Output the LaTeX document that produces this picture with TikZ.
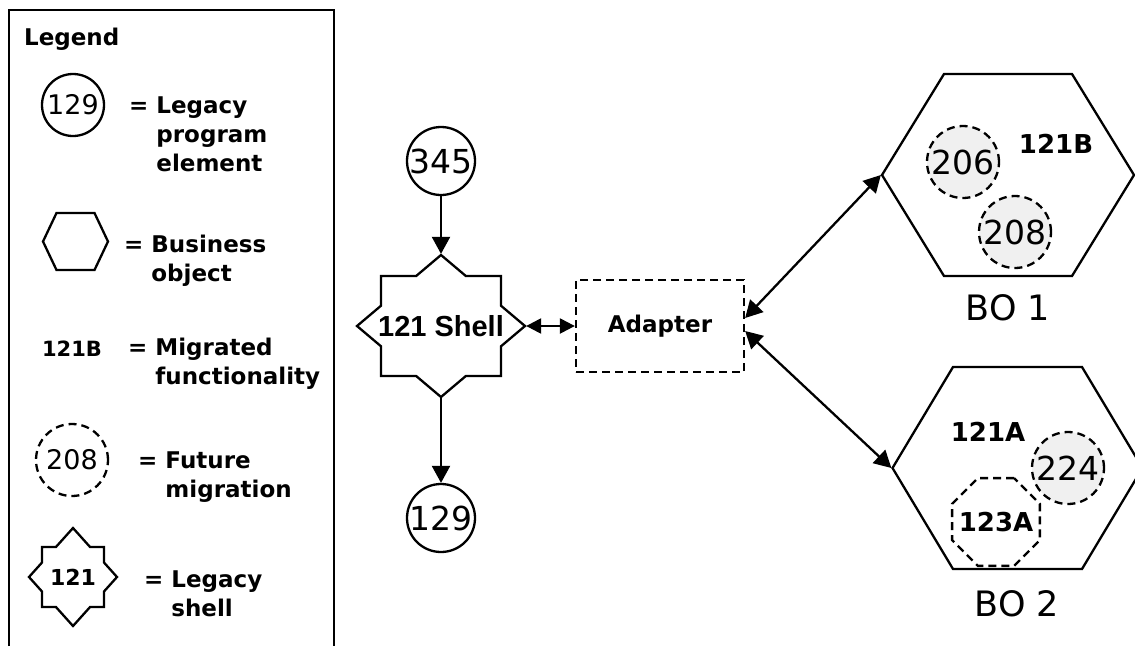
\documentclass[tikz,border=0pt]{standalone}
\usepackage{fontspec}
\setmainfont{DejaVu Sans}
\newfontfamily\shellfont{Liberation Sans}
\usetikzlibrary{arrows.meta,shapes.geometric}

\newcommand{\shellstar}[5]{%
  \draw[shift={(#1.center)}] (-#2,-#3) -- ({-#4*(1-#3/#5)},-#3) -- (0,-#5)
    -- ({#4*(1-#3/#5)},-#3) -- (#2,-#3) -- (#2,{-#5*(1-#2/#4)}) -- (#4,0)
    -- (#2,{#5*(1-#2/#4)}) -- (#2,#3) -- ({#4*(1-#3/#5)},#3) -- (0,#5)
    -- ({-#4*(1-#3/#5)},#3) -- (-#2,#3) -- (-#2,{#5*(1-#2/#4)}) -- (-#4,0)
    -- (-#2,{-#5*(1-#2/#4)}) -- cycle;}
\newcommand{\bohex}[4]{%
  \draw[shift={(#1.center)}] (-#2,0) -- (-#4,-#3) -- (#4,-#3) -- (#2,0)
    -- (#4,#3) -- (-#4,#3) -- cycle;}

\begin{document}
\begin{tikzpicture}[x=1pt,y=-1pt,line width=2.3pt,
    >={Triangle[length=17pt,width=18pt]},
    dashline/.style={dash pattern=on 8pt off 5pt},
    legendtext/.style={anchor=base west,inner sep=0pt,
      font=\fontsize{23}{29}\selectfont\bfseries},
    oldelem/.style={circle,draw,minimum size=68pt,inner sep=0pt,
      font=\fontsize{33}{33}\selectfont},
    futureelem/.style={oldelem,dashline,fill=gray!12,minimum size=72pt},
    migrated/.style={inner sep=0pt,font=\fontsize{26}{26}\selectfont\bfseries},
    holder/.style={inner sep=0pt},
    bolabel/.style={inner sep=0pt,font=\fontsize{35}{35}\selectfont}]
  \useasboundingbox (0,0) rectangle (1135,646);
  \clip (0,0) rectangle (1135,646);

  \draw[line width=2pt] (9,646) -- (9,10) -- (334,10) -- (334,646);
  \node[legendtext] (legendtitle) at (23,45) {Legend};

  \node[oldelem,minimum size=62pt,font=\fontsize{27}{27}\selectfont] (leg129) at (73,105) {129};
  \node[legendtext] (legold) at (128,113) {= \begin{tabular}[t]{@{}l@{}}Legacy\\program\\element\end{tabular}};

  \node[holder,minimum width=65pt,minimum height=57pt] (leghex) at (75.5,241.5) {};
  \bohex{leghex}{32.5}{28.5}{19}
  \node[legendtext] (legbo) at (123,252) {= \begin{tabular}[t]{@{}l@{}}Business\\object\end{tabular}};

  \node[migrated,font=\fontsize{21}{21}\selectfont\bfseries] (leg121b) at (72,349) {121B};
  \node[legendtext] (legmig) at (127,355) {= \begin{tabular}[t]{@{}l@{}}Migrated\\functionality\end{tabular}};

  \node[oldelem,dashline,minimum size=72pt,font=\fontsize{27}{27}\selectfont] (leg208) at (72,460) {208};
  \node[legendtext] (legfut) at (137,468) {= \begin{tabular}[t]{@{}l@{}}Future\\migration\end{tabular}};

  \node[holder,minimum width=88pt,minimum height=98pt,font=\fontsize{22}{22}\selectfont\bfseries] (legshell) at (73,577) {121};
  \shellstar{legshell}{31}{30}{44}{49}
  \node[legendtext] (legsh) at (143,587) {= \begin{tabular}[t]{@{}l@{}}Legacy\\shell\end{tabular}};

  \node[oldelem] (n345) at (441,161) {345};
  \node[holder,minimum width=168pt,minimum height=142pt,font=\fontsize{29}{29}\selectfont\shellfont\bfseries] (shell) at (441,326) {121 Shell};
  \shellstar{shell}{60}{50}{84}{71}
  \node[oldelem] (n129) at (441,518) {129};
  \node[draw,dashline,minimum width=168pt,minimum height=92pt,inner sep=0pt,
    font=\fontsize{23}{23}\selectfont\bfseries] (adapter) at (660,326) {Adapter};

  \node[holder,minimum width=252pt,minimum height=202pt] (bo1) at (1008,175) {};
  \bohex{bo1}{126}{101}{64}
  \node[futureelem] (f206) at (963,162) {206};
  \node[futureelem] (f208) at (1015,232) {208};
  \node[migrated] (m121b) at (1056,144) {121B};
  \node[bolabel] (bo1name) at (1008,308) {BO 1};

  \node[holder,minimum width=250pt,minimum height=202pt] (bo2) at (1017.5,468) {};
  \bohex{bo2}{125}{101}{64.5}
  \node[migrated] (m121a) at (988,432) {121A};
  \node[regular polygon,regular polygon sides=8,draw,dashline,minimum size=95pt,
    inner sep=0pt,label={[migrated]center:123A}] (s123a) at (996,522) {};
  \node[futureelem] (f224) at (1068,468) {224};
  \node[bolabel] (bo2name) at (1017,604) {BO 2};

  \draw[->] (n345.south) -- (shell.north);
  \draw[->] (shell.south) -- (n129.north);
  \draw[<->,>={Triangle[length=15pt,width=15pt]}] (shell.east) -- (adapter.west);
  \draw[<->] ([yshift=8pt]adapter.east) -- (bo1.west);
  \draw[<->] ([yshift=-5pt]adapter.east) -- (bo2.west);
\end{tikzpicture}
\end{document}
